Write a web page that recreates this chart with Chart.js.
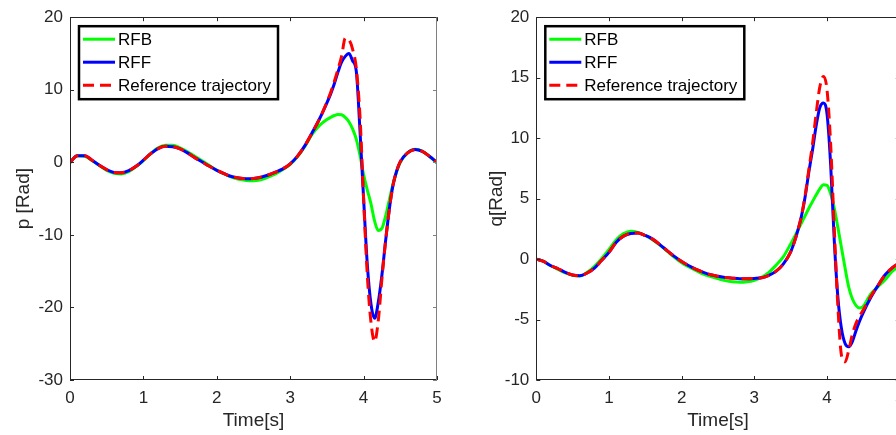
<!DOCTYPE html>
<html>
<head>
<meta charset="utf-8">
<script src="https://cdn.jsdelivr.net/npm/chart.js@4.4.0/dist/chart.umd.min.js"></script>
<style>
  html, body { margin: 0; padding: 0; background: #fff; overflow: hidden; }
  #wrap { position: relative; width: 896px; height: 435px; overflow: hidden; }
  canvas { position: absolute; top: 0; }
</style>
</head>
<body>
<div id="wrap">
  <canvas id="pChart" width="450" height="435" style="left:0"></canvas>
  <canvas id="qChart" width="470" height="435" style="left:450px"></canvas>
</div>
<script>
// sample times [s] (denser around the spike)
const time = [
  0, 0.1, 0.2, 0.3, 0.4, 0.5, 0.6, 0.7, 0.8, 0.9,
  1.0, 1.1, 1.2, 1.3, 1.4, 1.5, 1.6, 1.7, 1.8, 1.9,
  2.0, 2.1, 2.2, 2.3, 2.4, 2.5, 2.6, 2.7, 2.8, 2.9,
  3.0, 3.1, 3.2, 3.3, 3.4, 3.5,
  3.55, 3.6, 3.65, 3.7, 3.75, 3.8, 3.85, 3.9, 3.95, 4.0,
  4.05, 4.1, 4.15, 4.2, 4.25, 4.3, 4.35, 4.4, 4.45, 4.5,
  4.6, 4.7, 4.8, 4.9, 5.0
];

// p [Rad]
const pRFB = [
  0, 0.9, 0.85, 0.25, -0.45, -1.1, -1.5, -1.6, -1.3, -0.6,
  0.25, 1.2, 2.0, 2.35, 2.35, 2.0, 1.45, 0.85, 0.2, -0.45,
  -1.1, -1.6, -2.05, -2.35, -2.5, -2.55, -2.4, -2.05, -1.6, -1.0,
  -0.3, 0.8, 2.2, 3.9, 5.1, 5.9,
  6.2, 6.45, 6.6, 6.55, 6.2, 5.6, 4.6, 3.2, 1.0, -1.7,
  -3.8, -5.7, -8.1, -9.4, -9.1, -7.4, -5.2, -3.0, -1.3, 0.0,
  1.35, 1.8, 1.55, 0.8, -0.1
];
const pRFF = [
  0, 0.9, 0.9, 0.3, -0.4, -1.0, -1.4, -1.45, -1.15, -0.55,
  0.3, 1.2, 1.9, 2.2, 2.15, 1.85, 1.3, 0.65, 0.05, -0.55,
  -1.1, -1.55, -1.95, -2.15, -2.25, -2.22, -2.05, -1.75, -1.35, -0.9,
  -0.2, 0.85, 2.3, 4.1, 6.0, 8.2,
  9.4, 10.8, 12.4, 13.8, 14.6, 15.0, 14.0, 12.6, 4.5, -5.0,
  -14.0, -19.5, -21.5, -19.3, -15.5, -10.8, -6.5, -3.2, -1.2, 0.1,
  1.3, 1.75, 1.5, 0.8, 0.0
];
const pRef = [
  0, 0.9, 0.9, 0.3, -0.4, -1.0, -1.4, -1.45, -1.15, -0.55,
  0.3, 1.2, 1.9, 2.2, 2.15, 1.85, 1.3, 0.65, 0.05, -0.55,
  -1.1, -1.55, -1.95, -2.15, -2.25, -2.22, -2.05, -1.75, -1.35, -0.9,
  -0.2, 0.85, 2.3, 4.1, 6.0, 8.3,
  9.6, 11.1, 12.8, 14.6, 17.1, 16.9, 15.6, 13.0, 6.5, -5.0,
  -15.5, -22.0, -24.7, -21.8, -16.0, -10.8, -6.5, -3.2, -1.2, 0.1,
  1.3, 1.75, 1.5, 0.8, 0.0
];

// q [Rad]
const qRFB = [
  0, -0.2, -0.55, -0.85, -1.15, -1.35, -1.4, -1.1, -0.6, 0.05,
  0.8, 1.6, 2.1, 2.3, 2.2, 1.95, 1.6, 1.15, 0.65, 0.15,
  -0.3, -0.65, -0.95, -1.25, -1.45, -1.62, -1.78, -1.88, -1.92, -1.88,
  -1.75, -1.5, -1.1, -0.5, 0.2, 1.25,
  1.8, 2.4, 3.0, 3.6, 4.2, 4.75, 5.3, 5.8, 6.15, 6.1,
  5.4, 4.2, 2.6, 0.9, -0.8, -2.35, -3.3, -3.85, -4.05, -3.9,
  -2.9, -2.3, -1.7, -1.0, -0.6
];
const qRFF = [
  0, -0.2, -0.55, -0.8, -1.1, -1.32, -1.38, -1.15, -0.75, -0.1,
  0.55, 1.4, 1.9, 2.12, 2.15, 1.95, 1.65, 1.2, 0.7, 0.22,
  -0.2, -0.55, -0.85, -1.1, -1.3, -1.42, -1.52, -1.58, -1.62, -1.62,
  -1.6, -1.55, -1.35, -1.0, -0.4, 0.6,
  1.4, 2.4, 3.6, 5.2, 7.2, 9.0, 11.0, 12.5, 12.9, 12.0,
  7.8, 1.5, -3.2, -5.8, -7.0, -7.25, -6.8, -5.9, -5.1, -4.4,
  -3.2, -2.2, -1.3, -0.7, -0.3
];
const qRef = [
  0, -0.2, -0.55, -0.8, -1.1, -1.32, -1.38, -1.15, -0.75, -0.1,
  0.55, 1.4, 1.9, 2.12, 2.15, 1.95, 1.65, 1.2, 0.7, 0.22,
  -0.2, -0.55, -0.85, -1.1, -1.3, -1.42, -1.52, -1.58, -1.62, -1.62,
  -1.6, -1.55, -1.35, -1.0, -0.4, 0.6,
  1.4, 2.4, 3.6, 5.3, 7.4, 9.5, 12.0, 14.2, 15.1, 14.0,
  9.5, 2.5, -4.0, -8.0, -8.5, -7.5, -6.2, -5.3, -4.7, -4.2,
  -3.1, -2.2, -1.3, -0.7, -0.3
];

const labels = ['RFB', 'RFF', 'Reference trajectory'];
const FONT = '"Liberation Sans", Arial, Helvetica, sans-serif';
const AX = '#262626';

const pts = (ys) => ys.map((y, i) => ({ x: time[i], y: y }));

function makeSets(rfb, rff, ref) {
  // order: higher is drawn first (underneath)
  return [
    { label: labels[0], data: pts(rfb), borderColor: '#00ff00', borderWidth: 3, order: 3 },
    { label: labels[1], data: pts(rff), borderColor: '#0000ff', borderWidth: 3, order: 2 },
    { label: labels[2], data: pts(ref), borderColor: '#ff0000', borderWidth: 3, borderDash: [11, 6], order: 1 },
  ].map((d) => Object.assign(d, { pointRadius: 0, fill: false, cubicInterpolationMode: 'monotone' }));
}

// MATLAB style box with inward ticks + legend in upper-left
const matlabBox = {
  id: 'matlabBox',
  afterDatasetsDraw(chart) {
    const { ctx, chartArea: a, scales } = chart;
    const tl = 4;
    ctx.save();
    ctx.lineWidth = 1;
    // ticks
    ctx.strokeStyle = AX;
    scales.x.ticks.forEach((t) => {
      const px = Math.round(scales.x.getPixelForValue(t.value)) + 0.5;
      ctx.beginPath();
      ctx.moveTo(px, a.bottom); ctx.lineTo(px, a.bottom - tl);
      ctx.moveTo(px, a.top); ctx.lineTo(px, a.top + tl);
      ctx.stroke();
    });
    scales.y.ticks.forEach((t) => {
      const py = Math.round(scales.y.getPixelForValue(t.value)) + 0.5;
      ctx.beginPath();
      ctx.moveTo(a.left, py); ctx.lineTo(a.left + tl, py);
      ctx.stroke();
      ctx.strokeStyle = '#808080';
      ctx.beginPath();
      ctx.moveTo(a.right, py); ctx.lineTo(a.right - tl, py);
      ctx.stroke();
      ctx.strokeStyle = AX;
    });
    // box
    const l = Math.round(a.left) + 0.5, r = Math.round(a.right) - 0.5;
    const t = Math.round(a.top) + 0.5, b = Math.round(a.bottom) - 0.5;
    ctx.strokeStyle = AX;
    ctx.beginPath();
    ctx.moveTo(r, t); ctx.lineTo(l, t); ctx.lineTo(l, b); ctx.lineTo(r, b);
    ctx.stroke();
    ctx.strokeStyle = '#808080';
    ctx.beginPath();
    ctx.moveTo(r, t); ctx.lineTo(r, b);
    ctx.stroke();

    // legend
    const lx = a.left + 9, ly = a.top + 9, lw = 199, lh = 73;
    ctx.fillStyle = '#fff';
    ctx.fillRect(lx, ly, lw, lh);
    ctx.lineWidth = 2.5;
    ctx.strokeStyle = '#000';
    ctx.strokeRect(lx, ly, lw, lh);
    ctx.font = '17px ' + FONT;
    ctx.textBaseline = 'middle';
    ctx.textAlign = 'left';
    chart.data.datasets.forEach((ds, i) => {
      const y = ly + 13 + i * 23;
      ctx.beginPath();
      ctx.lineWidth = 3;
      ctx.strokeStyle = ds.borderColor;
      ctx.setLineDash(ds.borderDash || []);
      ctx.moveTo(lx + 4, y); ctx.lineTo(lx + 36, y);
      ctx.stroke();
      ctx.setLineDash([]);
      ctx.fillStyle = '#000';
      ctx.fillText(ds.label, lx + 39, y + 1);
    });
    ctx.restore();
  },
};

function makeChart(id, sets, yMin, yMax, yStep, yTitle, yWidth, pad, titlePad) {
  return new Chart(document.getElementById(id), {
    type: 'line',
    data: { datasets: sets },
    options: {
      responsive: false,
      animation: false,
      layout: { padding: pad },
      plugins: { legend: { display: false }, tooltip: { enabled: false } },
      scales: {
        x: {
          type: 'linear',
          min: 0, max: 5,
          afterFit: (s) => { s.height = 55; },
          grid: { display: false, drawTicks: false },
          border: { display: false },
          ticks: { stepSize: 1, padding: 8, color: AX, font: { family: FONT, size: 17 } },
          title: { display: true, text: 'Time[s]', color: AX, padding: { top: 0, bottom: 3 }, font: { family: FONT, size: 19 } },
        },
        y: {
          min: yMin, max: yMax,
          afterFit: (s) => { s.width = yWidth; },
          grid: { display: false, drawTicks: false },
          border: { display: false },
          ticks: { stepSize: yStep, padding: 7, color: AX, font: { family: FONT, size: 17 } },
          title: { display: true, text: yTitle, color: AX, padding: { top: titlePad, bottom: 0 }, font: { family: FONT, size: 19 } },
        },
      },
    },
    plugins: [matlabBox],
  });
}

makeChart('pChart', makeSets(pRFB, pRFF, pRef), -30, 20, 10, 'p [Rad]', 70,
  { left: 0, right: 13, top: 15, bottom: 0 }, 12);
makeChart('qChart', makeSets(qRFB, qRFF, qRef), -10, 20, 5, 'q[Rad]', 86.3,
  { left: 0, right: 20.3, top: 14, bottom: 0 }, 35);
</script>
</body>
</html>
